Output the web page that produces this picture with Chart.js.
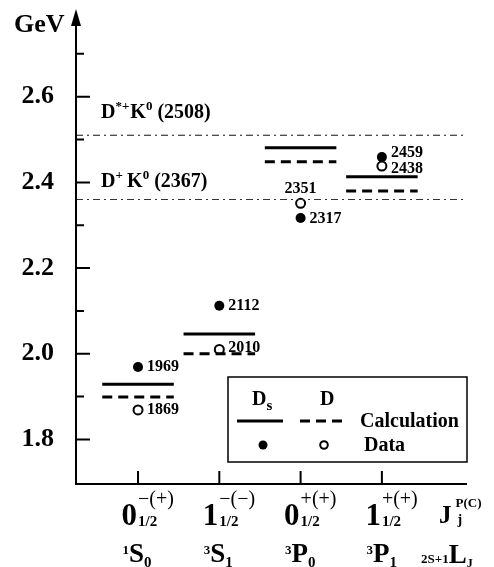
<!DOCTYPE html>
<html><head><meta charset="utf-8">
<style>html,body{margin:0;padding:0;background:#fff;}#wrap{width:494px;height:567px;}</style>
<script src="https://cdn.jsdelivr.net/npm/chart.js@4"></script>
</head><body><div id="wrap"><canvas id="c" width="494" height="567"></canvas></div>
<script>
// ---- data ----
const stateJ = ['0', '1', '0', '1'];
const stateJsub = ['1/2', '1/2', '1/2', '1/2'];
const statePC = ['\u2212(+)', '\u2212(\u2212)', '+(+)', '+(+)'];
const stateMult = ['1', '3', '3', '3'];
const stateL = ['S', 'S', 'P', 'P'];
const stateLJ = ['0', '1', '0', '1'];
const dsCalc = [1.929, 2.046, 2.481, 2.413];
const dCalc = [1.899, 2.000, 2.448, 2.380];
const dsData = [1.969, 2.112, 2.317, 2.459];
const dData = [1.869, 2.010, 2.351, 2.438];
const dsDataLabels = ['1969', '2112', '2317', '2459'];
const dDataLabels = ['1869', '2010', '2351', '2438'];
const thresholds = [2.510, 2.360];
const thresholdSup = ['*+', '+ '];
const thresholdMass = ['(2508)', '(2367)'];
const majorTicks = [1.8, 2.0, 2.2, 2.4, 2.6];
const minorTicks = [1.9, 2.1, 2.3, 2.5, 2.7];
const tickLabels = ['1.8', '2.0', '2.2', '2.4', '2.6'];

// ---- style ----
const FONT = '"Liberation Serif", "Times New Roman", serif';
const HALF = 0.44;
const X_MIN = -0.763, X_MAX = 4.047;
const dsLabelPos = ['right', 'right', 'right', 'right'];
const dLabelPos = ['right', 'right', 'top', 'right'];
const dsLabelDy = [0, 0, 1, -4];
const dLabelDy = [0, -2, 0, 3];
const thrLabelDy = [-17, -13];

function segments(vals) {
  const out = [];
  vals.forEach((v, i) => {
    out.push({x: i - HALF, y: v}, {x: i + HALF, y: v}, {x: i + 0.5, y: null});
  });
  return out;
}
function fullLine(v) { return [{x: X_MIN, y: v}, {x: X_MAX - 0.03, y: v}]; }

function runs(ctx, x, y, list) {
  for (const r of list) {
    ctx.font = (r.bold === false ? '' : 'bold ') + r.size + 'px ' + FONT;
    ctx.fillText(r.t, x, y + (r.dy || 0));
    x += ctx.measureText(r.t).width + (r.gap || 0);
  }
  return x;
}

const decor = {
  id: 'decor',
  afterDatasetsDraw(chart) {
    const ctx = chart.ctx, a = chart.chartArea;
    const xs = chart.scales.x, ys = chart.scales.y;
    ctx.save();
    ctx.fillStyle = '#000'; ctx.strokeStyle = '#000';
    // axes
    ctx.lineWidth = 2;
    ctx.beginPath();
    ctx.moveTo(a.left, a.bottom); ctx.lineTo(a.left, a.top + 8);
    ctx.moveTo(a.left - 1, a.bottom); ctx.lineTo(a.right, a.bottom);
    ctx.stroke();
    ctx.beginPath();
    ctx.moveTo(a.left, a.top - 2); ctx.lineTo(a.left - 5, a.top + 15); ctx.lineTo(a.left + 5, a.top + 15);
    ctx.closePath(); ctx.fill();
    // y ticks
    ctx.beginPath();
    majorTicks.forEach(v => { const y = ys.getPixelForValue(v); ctx.moveTo(a.left, y); ctx.lineTo(a.left + 14, y); });
    minorTicks.forEach(v => { const y = ys.getPixelForValue(v); ctx.moveTo(a.left, y); ctx.lineTo(a.left + 8, y); });
    // x ticks
    stateJ.forEach((_, i) => { const x = xs.getPixelForValue(i); ctx.moveTo(x, a.bottom); ctx.lineTo(x, a.bottom - 13); });
    ctx.stroke();
    // GeV
    ctx.textAlign = 'left'; ctx.textBaseline = 'alphabetic';
    runs(ctx, 14, 32, [{t: 'GeV', size: 26}]);
    // threshold labels
    thresholds.forEach((v, i) => {
      const y = ys.getPixelForValue(v) + thrLabelDy[i];
      runs(ctx, 101, y, [
        {t: 'D', size: 20}, {t: thresholdSup[i], size: 13, dy: -8, gap: 1},
        {t: 'K', size: 20}, {t: '0', size: 13, dy: -8}, {t: ' ' + thresholdMass[i], size: 20}
      ]);
    });
    // data labels
    ctx.font = 'bold 16px ' + FONT;
    const lab = (vals, labels, pos, dys) => vals.forEach((v, i) => {
      const x = xs.getPixelForValue(i), y = ys.getPixelForValue(v) + dys[i];
      if (pos[i] === 'top') {
        ctx.textAlign = 'center'; ctx.textBaseline = 'alphabetic';
        ctx.fillText(labels[i], x, y - 10);
      } else {
        ctx.textAlign = 'left'; ctx.textBaseline = 'middle';
        ctx.fillText(labels[i], x + 9, y);
      }
    });
    lab(dsData, dsDataLabels, dsLabelPos, dsLabelDy);
    lab(dData, dDataLabels, dLabelPos, dLabelDy);
    // bottom labels
    ctx.textBaseline = 'alphabetic';
    stateJ.forEach((j, i) => {
      const px = xs.getPixelForValue(i);
      ctx.textAlign = 'right';
      ctx.font = 'bold 31px ' + FONT; ctx.fillText(j, px - 1, 525);
      ctx.font = 'bold 13px ' + FONT; ctx.fillText(stateMult[i], px - 9, 554);
      ctx.textAlign = 'left';
      ctx.font = '20px ' + FONT; ctx.fillText(statePC[i], px, 505);
      ctx.font = 'bold 15px ' + FONT; ctx.fillText(stateJsub[i], px, 526);
      const e = runs(ctx, px - 9, 562, [{t: stateL[i], size: 27}]);
      runs(ctx, e, 567, [{t: stateLJ[i], size: 15}]);
    });
    ctx.textAlign = 'left';
    let e = runs(ctx, 439, 523, [{t: 'J', size: 25}]);
    runs(ctx, e + 4, 507, [{t: 'P(C)', size: 13}]);
    runs(ctx, e + 6, 524, [{t: 'j', size: 14}]);
    e = runs(ctx, 421, 563, [{t: '2S+1', size: 13}, {t: 'L', size: 27}]);
    runs(ctx, e, 567, [{t: 'J', size: 12}]);
    // legend
    ctx.lineWidth = 1.5;
    ctx.strokeRect(228, 377, 239, 85);
    ctx.textAlign = 'left';
    let d = runs(ctx, 252, 405, [{t: 'D', size: 20}]);
    runs(ctx, d, 410, [{t: 's', size: 15}]);
    runs(ctx, 320, 405, [{t: 'D', size: 20}]);
    ctx.lineWidth = 3;
    ctx.beginPath(); ctx.moveTo(237, 421); ctx.lineTo(283, 421); ctx.stroke();
    ctx.setLineDash([10, 6]);
    ctx.beginPath(); ctx.moveTo(300, 421); ctx.lineTo(347, 421); ctx.stroke();
    ctx.setLineDash([]);
    runs(ctx, 360, 427, [{t: 'Calculation', size: 20}]);
    runs(ctx, 364, 451, [{t: 'Data', size: 20}]);
    ctx.beginPath(); ctx.arc(263, 445, 4.5, 0, Math.PI * 2); ctx.fill();
    ctx.lineWidth = 2;
    ctx.beginPath(); ctx.arc(324, 445, 3.8, 0, Math.PI * 2); ctx.stroke();
    ctx.restore();
  }
};

new Chart(document.getElementById('c'), {
  type: 'scatter',
  data: {
    datasets: [
      {label: 'thr1', data: fullLine(thresholds[0]), showLine: true, borderColor: '#111', borderWidth: 1, borderDash: [7, 4, 2, 4], pointRadius: 0},
      {label: 'thr2', data: fullLine(thresholds[1]), showLine: true, borderColor: '#333', borderWidth: 1, borderDash: [7, 4, 2, 4], pointRadius: 0},
      {label: 'Ds calc', data: segments(dsCalc), showLine: true, spanGaps: false, borderColor: '#000', borderWidth: 3, pointRadius: 0},
      {label: 'D calc', data: segments(dCalc), showLine: true, spanGaps: false, borderColor: '#000', borderWidth: 3, borderDash: [10, 6], pointRadius: 0},
      {label: 'Ds data', data: dsData.map((v, i) => ({x: i, y: v})), pointRadius: 5, backgroundColor: '#000', borderColor: '#000', borderWidth: 0},
      {label: 'D data', data: dData.map((v, i) => ({x: i, y: v})), pointRadius: 4.5, backgroundColor: '#fff', borderColor: '#000', borderWidth: 2}
    ]
  },
  options: {
    responsive: false, animation: false, devicePixelRatio: 1,
    layout: {padding: {left: 0, right: 27, top: 11, bottom: 83}},
    plugins: {legend: {display: false}, tooltip: {enabled: false}},
    scales: {
      x: {type: 'linear', min: X_MIN, max: X_MAX, display: false},
      y: {
        type: 'linear', min: 1.696, max: 2.8,
        grid: {display: false, drawTicks: false}, border: {display: false},
        afterBuildTicks: s => { s.ticks = majorTicks.map(v => ({value: v})); },
        afterFit: s => { s.width = 76; s.paddingTop = 0; s.paddingBottom = 0; },
        ticks: {padding: 22, color: '#000', font: {family: FONT, size: 26, weight: 'bold'},
                callback: (v, i) => tickLabels[i]}
      }
    }
  },
  plugins: [decor]
});
</script></body></html>
